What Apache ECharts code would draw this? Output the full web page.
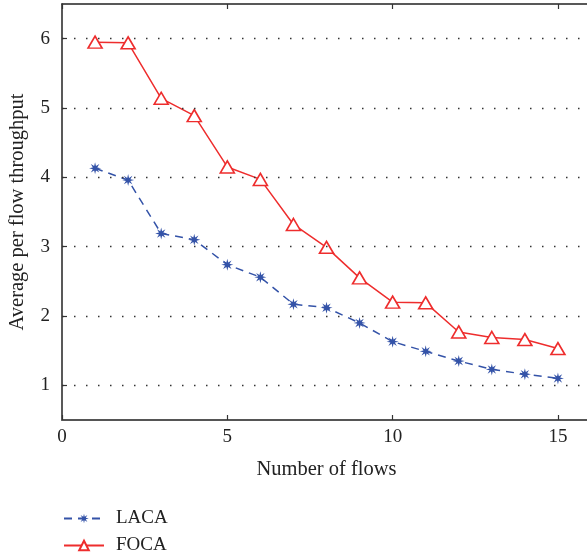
<!DOCTYPE html>
<html>
<head>
<meta charset="utf-8">
<script src="https://cdn.jsdelivr.net/npm/echarts@6/dist/echarts.min.js"></script>
<style>
  html, body { margin: 0; padding: 0; background: #fff; }
  #chart { width: 587px; height: 558px; }
</style>
</head>
<body>
<div id="chart"></div>
<script>
// data
const flows = [1, 2, 3, 4, 5, 6, 7, 8, 9, 10, 11, 12, 13, 14, 15];
const laca = [4.13, 3.96, 3.19, 3.10, 2.74, 2.56, 2.17, 2.12, 1.90, 1.63, 1.49, 1.35, 1.23, 1.16, 1.10];
const foca = [5.95, 5.94, 5.14, 4.89, 4.15, 3.97, 3.32, 2.99, 2.55, 2.20, 2.19, 1.77, 1.69, 1.66, 1.53];
const xTicks = [0, 5, 10, 15];
const yTicks = [1, 2, 3, 4, 5, 6];

const font = '"Liberation Serif", "DejaVu Serif", serif';
const blue = '#3453a8';
const red = '#ee2d2d';
const starPath = 'path://M20 10 L13.7 11.53 L17.07 17.07 L11.53 13.7 L10 20 L8.47 13.7 L2.93 17.07 L6.3 11.53 L0 10 L6.3 8.47 L2.93 2.93 L8.47 6.3 L10 0 L11.53 6.3 L17.07 2.93 L13.7 8.47 Z';

const chart = echarts.init(document.getElementById('chart'));

// one legend per row so they stack like the reference
const legendBase = {
  left: 58,
  itemWidth: 40,
  itemHeight: 12,
  textStyle: { fontFamily: font, fontSize: 19, color: '#222', padding: [0, 0, 0, 7] }
};

const option = {
  animation: false,
  grid: { left: 62, top: 4, right: -4, bottom: 138, outerBoundsMode: 'none', containLabel: false },
  legend: [
    Object.assign({ top: 504, data: ['LACA'] }, legendBase),
    Object.assign({ top: 531, data: ['FOCA'] }, legendBase)
  ],
  xAxis: [
    {
      type: 'value',
      min: 0,
      max: 16,
      name: 'Number of flows',
      nameLocation: 'middle',
      nameGap: 39,
      nameTextStyle: { fontFamily: font, fontSize: 20.5, color: '#222' },
      axisLine: { lineStyle: { color: '#555', width: 2 } },
      axisTick: { inside: true, length: 5, customValues: xTicks, lineStyle: { color: '#333', width: 1.2 } },
      axisLabel: { customValues: xTicks, margin: 8, fontFamily: font, fontSize: 19, color: '#222' },
      splitLine: { show: false }
    },
    {
      type: 'value',
      position: 'top',
      min: 0,
      max: 16,
      axisLine: { show: true, lineStyle: { color: '#222', width: 1.5 } },
      axisTick: { show: true, inside: true, length: 5, customValues: xTicks, lineStyle: { color: '#333', width: 1.2 } },
      axisLabel: { show: false },
      splitLine: { show: false }
    }
  ],
  yAxis: {
    type: 'value',
    min: 0.5,
    max: 6.5,
    name: 'Average per flow throughput',
    nameLocation: 'middle',
    nameGap: 34,
    nameTextStyle: { fontFamily: font, fontSize: 20.5, color: '#222' },
    axisLine: { show: true, lineStyle: { color: '#222', width: 1.5 } },
    axisTick: { show: true, inside: true, length: 5, customValues: yTicks, lineStyle: { color: '#333', width: 1.2 } },
    axisLabel: { customValues: yTicks, margin: 12, fontFamily: font, fontSize: 19, color: '#222' },
    splitLine: { show: false }
  },
  series: [
    {
      name: 'LACA',
      type: 'line',
      data: flows.map((x, i) => [x, laca[i]]),
      symbol: starPath,
      symbolSize: 12,
      lineStyle: { color: blue, width: 1.5, type: [8, 6] },
      itemStyle: { color: blue },
      markLine: {
        silent: true,
        symbol: 'none',
        label: { show: false },
        lineStyle: { color: '#333', width: 1.3, type: [1.5, 10.5] },
        data: yTicks.map(v => ({ yAxis: v }))
      },
      z: 3
    },
    {
      name: 'FOCA',
      type: 'line',
      data: flows.map((x, i) => [x, foca[i]]),
      symbol: 'triangle',
      symbolSize: [14, 12],
      lineStyle: { color: red, width: 1.5 },
      itemStyle: { color: '#fff', borderColor: red, borderWidth: 1.6 },
      z: 4
    }
  ]
};

chart.setOption(option);
</script>
</body>
</html>
